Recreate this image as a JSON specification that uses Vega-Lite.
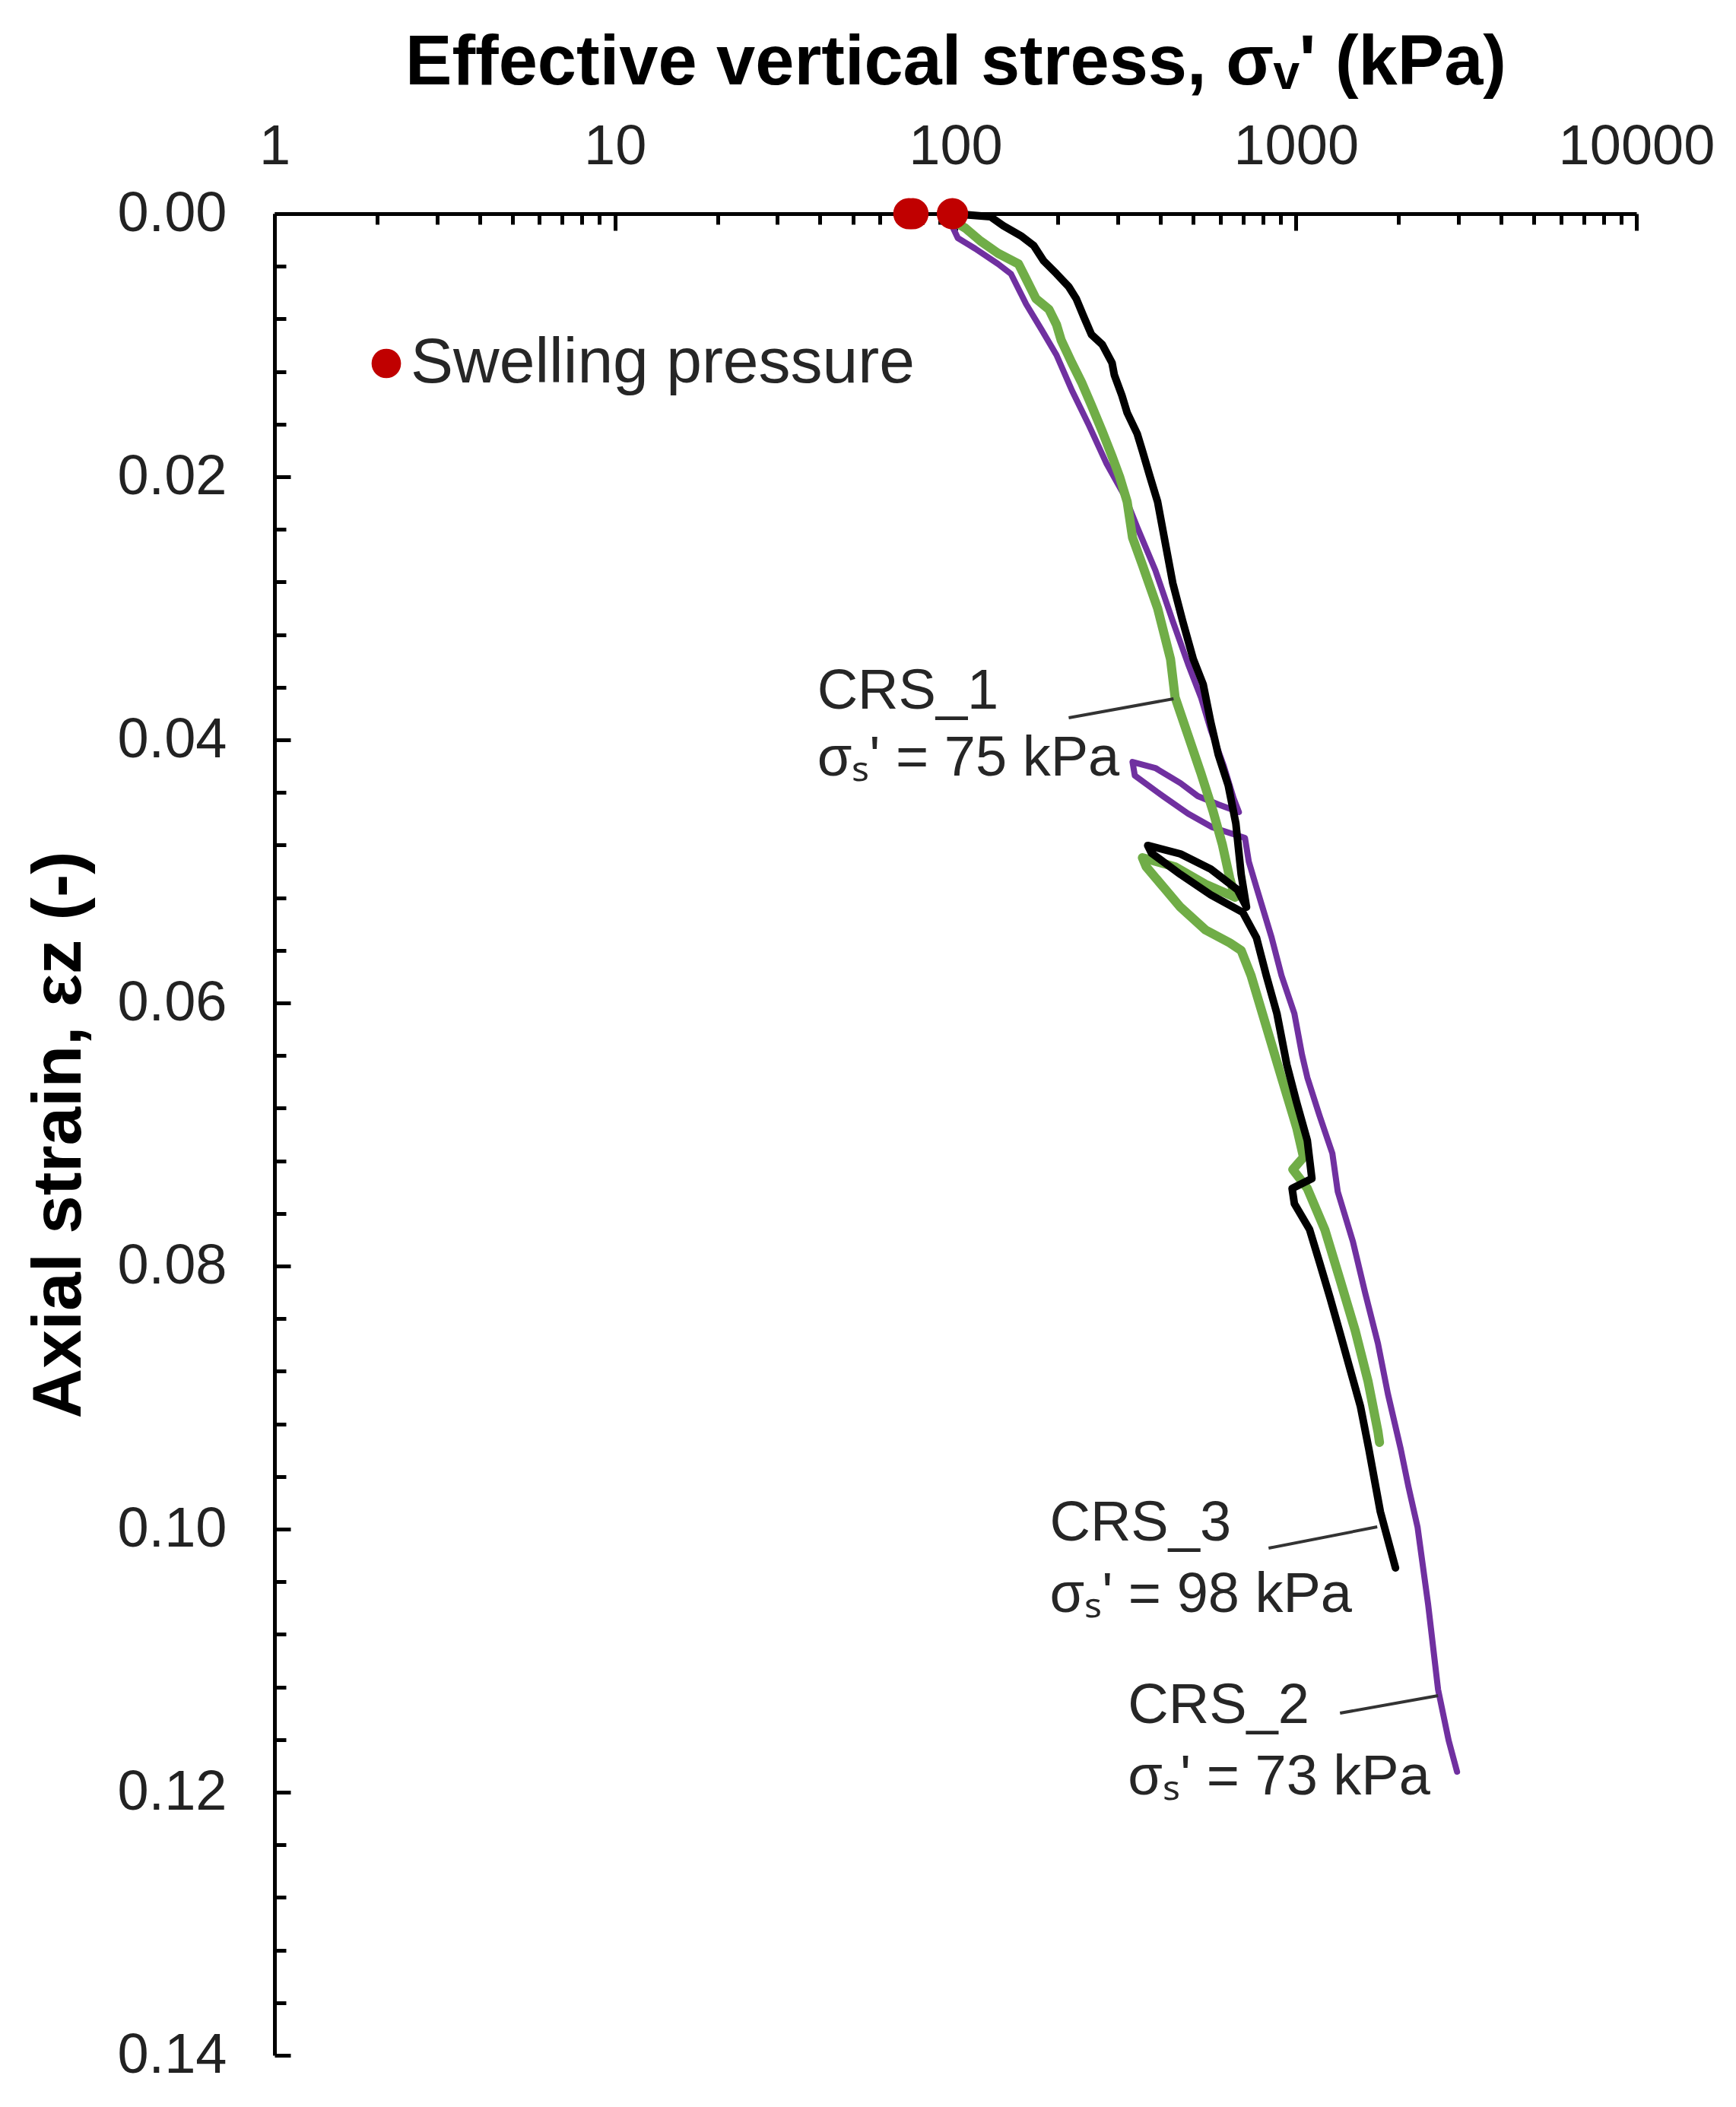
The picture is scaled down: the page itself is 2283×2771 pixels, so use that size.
{
  "$schema": "https://vega.github.io/schema/vega-lite/v6.json",
  "width": 1791,
  "height": 2422,
  "autosize": {"type": "none"},
  "padding": {"left": 361, "top": 281, "right": 131, "bottom": 68},
  "background": "white",
  "config": {
    "view": {"stroke": null},
    "font": "Liberation Sans"
  },
  "datasets": {
    "crs1": [
      {"i":1,"stress":100.5,"strain":0.00069},{"i":2,"stress":106.9,"strain":0.0011},{"i":3,"stress":118.5,"strain":0.00208},
      {"i":4,"stress":133.4,"strain":0.00301},{"i":5,"stress":153.2,"strain":0.00382},{"i":6,"stress":161.3,"strain":0.00497},
      {"i":7,"stress":172.4,"strain":0.00647},{"i":8,"stress":188.2,"strain":0.00728},{"i":9,"stress":198.1,"strain":0.00844},
      {"i":10,"stress":204.3,"strain":0.0096},{"i":11,"stress":219.6,"strain":0.01133},{"i":12,"stress":234.7,"strain":0.01283},
      {"i":13,"stress":250.9,"strain":0.01457},{"i":14,"stress":269.7,"strain":0.01653},{"i":15,"stress":288.3,"strain":0.01844},
      {"i":16,"stress":303.5,"strain":0.02},{"i":17,"stress":319.5,"strain":0.02191},{"i":18,"stress":331.2,"strain":0.02462},
      {"i":19,"stress":354.1,"strain":0.02671},{"i":20,"stress":392.5,"strain":0.03},{"i":21,"stress":428.3,"strain":0.03387},
      {"i":22,"stress":441.7,"strain":0.03676},{"i":23,"stress":482.0,"strain":0.03965},{"i":24,"stress":526.0,"strain":0.04254},
      {"i":25,"stress":571.0,"strain":0.04543},{"i":26,"stress":607.6,"strain":0.04792},{"i":27,"stress":639.4,"strain":0.05052},
      {"i":28,"stress":662.9,"strain":0.05197},{"i":29,"stress":542.6,"strain":0.05098},{"i":30,"stress":441.7,"strain":0.04965},
      {"i":31,"stress":354.1,"strain":0.04896},{"i":32,"stress":363.3,"strain":0.04965},{"i":33,"stress":457.9,"strain":0.05272},
      {"i":34,"stress":542.6,"strain":0.05445},{"i":35,"stress":639.4,"strain":0.05543},{"i":36,"stress":690.6,"strain":0.05601},
      {"i":37,"stress":738.4,"strain":0.05792},{"i":38,"stress":818.5,"strain":0.06179},{"i":39,"stress":907.2,"strain":0.06566},
      {"i":40,"stress":1005.1,"strain":0.06948},{"i":41,"stress":1052.7,"strain":0.07173},{"i":42,"stress":979.7,"strain":0.07266},
      {"i":43,"stress":1080.1,"strain":0.0741},{"i":44,"stress":1215.7,"strain":0.07723},{"i":45,"stress":1347.5,"strain":0.08104},
      {"i":46,"stress":1493.3,"strain":0.08491},{"i":47,"stress":1629.5,"strain":0.08879},{"i":48,"stress":1742.0,"strain":0.0926},
      {"i":49,"stress":1760.0,"strain":0.09341}
    ],
    "crs2": [
      {"i":1,"stress":98.0,"strain":0.00098},{"i":2,"stress":101.6,"strain":0.00185},{"i":3,"stress":114.3,"strain":0.00266},
      {"i":4,"stress":133.4,"strain":0.00382},{"i":5,"stress":145.5,"strain":0.00457},{"i":6,"stress":161.3,"strain":0.00688},
      {"i":7,"stress":178.8,"strain":0.00879},{"i":8,"stress":198.1,"strain":0.01075},{"i":9,"stress":219.6,"strain":0.01341},
      {"i":10,"stress":247.1,"strain":0.01613},{"i":11,"stress":278.1,"strain":0.01902},{"i":12,"stress":314.7,"strain":0.0215},
      {"i":13,"stress":341.6,"strain":0.02382},{"i":14,"stress":386.5,"strain":0.02711},{"i":15,"stress":434.9,"strain":0.03098},
      {"i":16,"stress":482.0,"strain":0.03422},{"i":17,"stress":526.0,"strain":0.03676},{"i":18,"stress":562.3,"strain":0.03925},
      {"i":19,"stress":613.7,"strain":0.04197},{"i":20,"stress":656.2,"strain":0.04445},{"i":21,"stress":680.0,"strain":0.04549},
      {"i":22,"stress":592.0,"strain":0.04491},{"i":23,"stress":515.0,"strain":0.04428},{"i":24,"stress":457.9,"strain":0.04329},
      {"i":25,"stress":386.5,"strain":0.04214},{"i":26,"stress":331.2,"strain":0.04168},{"i":27,"stress":336.4,"strain":0.04272},
      {"i":28,"stress":406.8,"strain":0.04428},{"i":29,"stress":482.0,"strain":0.04561},{"i":30,"stress":568.2,"strain":0.04665},
      {"i":31,"stress":708.7,"strain":0.04746},{"i":32,"stress":727.1,"strain":0.04925},
      {"i":33,"stress":765.6,"strain":0.05121},{"i":34,"stress":848.5,"strain":0.05503},{"i":35,"stress":907.2,"strain":0.05792},
      {"i":36,"stress":989.7,"strain":0.06081},{"i":37,"stress":1042.0,"strain":0.06393},{"i":38,"stress":1080.1,"strain":0.06566},
      {"i":39,"stress":1172.8,"strain":0.06855},{"i":40,"stress":1279.7,"strain":0.07145},{"i":41,"stress":1327.0,"strain":0.07434},
      {"i":42,"stress":1470.5,"strain":0.07815},{"i":43,"stress":1596.5,"strain":0.08202},{"i":44,"stress":1742.0,"strain":0.0859},
      {"i":45,"stress":1862.5,"strain":0.08971},{"i":46,"stress":2032.4,"strain":0.09393},{"i":47,"stress":2140.0,"strain":0.09676},
      {"i":48,"stress":2276.0,"strain":0.09983},{"i":49,"stress":2445.3,"strain":0.10572},{"i":50,"stress":2615.5,"strain":0.1122},
      {"i":51,"stress":2809.6,"strain":0.11607},{"i":52,"stress":2973.3,"strain":0.11844}
    ],
    "crs3": [
      {"i":1,"stress":98.0,"strain":0.0},{"i":2,"stress":126.7,"strain":0.00023},{"i":3,"stress":138.2,"strain":0.00092},
      {"i":4,"stress":155.6,"strain":0.00168},{"i":5,"stress":169.8,"strain":0.00243},{"i":6,"stress":181.5,"strain":0.00358},
      {"i":7,"stress":198.1,"strain":0.00457},{"i":8,"stress":215.1,"strain":0.00555},{"i":9,"stress":226.4,"strain":0.00647},
      {"i":10,"stress":238.4,"strain":0.00786},{"i":11,"stress":250.9,"strain":0.00919},{"i":12,"stress":269.7,"strain":0.00994},
      {"i":13,"stress":288.3,"strain":0.01133},{"i":14,"stress":292.8,"strain":0.01225},{"i":15,"stress":308.2,"strain":0.01382},
      {"i":16,"stress":319.5,"strain":0.01514},{"i":17,"stress":341.6,"strain":0.01671},{"i":18,"stress":354.1,"strain":0.01803},
      {"i":19,"stress":372.8,"strain":0.02},{"i":20,"stress":392.5,"strain":0.02191},{"i":21,"stress":408.9,"strain":0.02439},
      {"i":22,"stress":434.9,"strain":0.02809},{"i":23,"stress":465.0,"strain":0.03098},{"i":24,"stress":499.5,"strain":0.03387},
      {"i":25,"stress":534.1,"strain":0.03578},{"i":26,"stress":562.3,"strain":0.03867},{"i":27,"stress":592.0,"strain":0.04116},
      {"i":28,"stress":632.8,"strain":0.04347},{"i":29,"stress":666.2,"strain":0.04636},{"i":30,"stress":690.6,"strain":0.05023},
      {"i":31,"stress":716.0,"strain":0.05272},{"i":32,"stress":673.2,"strain":0.05139},{"i":33,"stress":562.3,"strain":0.04983},
      {"i":34,"stress":457.9,"strain":0.04867},{"i":35,"stress":367.1,"strain":0.04803},{"i":36,"stress":376.6,"strain":0.04861},
      {"i":37,"stress":457.9,"strain":0.05023},{"i":38,"stress":562.3,"strain":0.05179},{"i":39,"stress":698.0,"strain":0.05312},
      {"i":40,"stress":765.6,"strain":0.05503},{"i":41,"stress":818.5,"strain":0.05792},{"i":42,"stress":879.5,"strain":0.06081},
      {"i":43,"stress":940.2,"strain":0.06468},{"i":44,"stress":1005.1,"strain":0.06757},{"i":45,"stress":1080.1,"strain":0.07046},
      {"i":46,"stress":1114.0,"strain":0.07335},{"i":47,"stress":974.6,"strain":0.0741},{"i":48,"stress":989.7,"strain":0.07526},
      {"i":49,"stress":1097.0,"strain":0.07723},{"i":50,"stress":1172.8,"strain":0.07971},{"i":51,"stress":1260.2,"strain":0.08243},
      {"i":52,"stress":1347.5,"strain":0.08509},{"i":53,"stress":1440.5,"strain":0.0878},{"i":54,"stress":1547.8,"strain":0.09069},
      {"i":55,"stress":1638.0,"strain":0.09393},{"i":56,"stress":1769.7,"strain":0.09867},{"i":57,"stress":1960.9,"strain":0.10295}
    ],
    "swell": [
      {"stress":73,"strain":0,"kind":"Swelling pressure"},
      {"stress":75,"strain":0,"kind":"Swelling pressure"},
      {"stress":98,"strain":0,"kind":"Swelling pressure"}
    ],
    "leaders": [
      {"stress":215.1,"strain":0.03832,"stress2":437.1,"strain2":0.03688},
      {"stress":831.2,"strain":0.10145,"stress2":1733.3,"strain2":0.09983},
      {"stress":1347.5,"strain":0.11399,"stress2":2615.5,"strain2":0.11266}
    ],
    "notes": [
      {"stress":39.25,"strain":0.03763,"label":"CRS_1"},
      {"stress":39.25,"strain":0.04272,"label":"σₛ' = 75 kPa"},
      {"stress":189.2,"strain":0.10087,"label":"CRS_3"},
      {"stress":189.2,"strain":0.1063,"label":"σₛ' = 98 kPa"},
      {"stress":321.1,"strain":0.11474,"label":"CRS_2"},
      {"stress":321.1,"strain":0.12017,"label":"σₛ' = 73 kPa"}
    ]
  },
  "encoding": {
    "x": {
      "field": "stress", "type": "quantitative",
      "scale": {"type": "log", "domain": [1, 10000], "nice": false},
      "axis": {
        "orient": "top",
        "title": "Effective vertical stress, σᵥ' (kPa)",
        "values": [1,2,3,4,5,6,7,8,9,10,20,30,40,50,60,70,80,90,100,200,300,400,500,600,700,800,900,1000,2000,3000,4000,5000,6000,7000,8000,9000,10000],
        "format": "d",
        "labelExpr": "abs(log(datum.value)/LN10 - round(log(datum.value)/LN10)) < 0.001 ? datum.label : ''",
        "tickSize": {"condition": {"test": "abs(log(datum.value)/LN10 - round(log(datum.value)/LN10)) < 0.001", "value": -22}, "value": -14},
        "tickWidth": 5, "tickColor": "#000",
        "domainWidth": 5, "domainColor": "#000",
        "grid": false,
        "labelFont": "Liberation Sans", "labelFontSize": 74, "labelColor": "#222",
        "labelPadding": 88, "labelBaseline": "alphabetic", "labelLimit": 0,
        "labelFlush": false, "labelOverlap": false, "labelBound": false,
        "titleFont": "Liberation Sans", "titleFontSize": 92, "titleFontWeight": "bold", "titleColor": "#000",
        "titlePadding": 19
      }
    },
    "y": {
      "field": "strain", "type": "quantitative",
      "scale": {"domain": [0, 0.14], "reverse": true, "nice": false, "zero": false},
      "axis": {
        "title": "Axial strain, εz (-)",
        "values": [0,0.004,0.008,0.012,0.016,0.02,0.024,0.028,0.032,0.036,0.04,0.044,0.048,0.052,0.056,0.06,0.064,0.068,0.072,0.076,0.08,0.084,0.088,0.092,0.096,0.1,0.104,0.108,0.112,0.116,0.12,0.124,0.128,0.132,0.136,0.14],
        "format": ".2f",
        "labelExpr": "abs(datum.value*50 - round(datum.value*50)) < 0.001 ? datum.label : ''",
        "tickSize": {"condition": {"test": "abs(datum.value*50 - round(datum.value*50)) < 0.001", "value": -21}, "value": -15},
        "tickWidth": 5, "tickColor": "#000",
        "domainWidth": 5, "domainColor": "#000",
        "grid": false,
        "labelFont": "Liberation Sans", "labelFontSize": 74, "labelColor": "#222",
        "labelPadding": 84, "labelLimit": 0,
        "labelFlush": false, "labelOverlap": false, "labelBound": false,
        "titleFont": "Liberation Sans", "titleFontSize": 91, "titleFontWeight": "bold", "titleColor": "#000",
        "titlePadding": 37
      }
    }
  },
  "layer": [
    {
      "data": {"name": "crs2"},
      "mark": {"type": "line", "color": "#7030A0", "strokeWidth": 8, "strokeJoin": "round", "strokeCap": "round"},
      "encoding": {"order": {"field": "i", "type": "quantitative"}}
    },
    {
      "data": {"name": "crs1"},
      "mark": {"type": "line", "color": "#70AD47", "strokeWidth": 12, "strokeJoin": "round", "strokeCap": "round"},
      "encoding": {"order": {"field": "i", "type": "quantitative"}}
    },
    {
      "data": {"name": "crs3"},
      "mark": {"type": "line", "color": "#000000", "strokeWidth": 10, "strokeJoin": "round", "strokeCap": "round"},
      "encoding": {"order": {"field": "i", "type": "quantitative"}}
    },
    {
      "data": {"name": "leaders"},
      "mark": {"type": "rule", "color": "#333333", "strokeWidth": 4},
      "encoding": {
        "x2": {"field": "stress2"},
        "y2": {"field": "strain2"}
      }
    },
    {
      "data": {"name": "notes"},
      "mark": {"type": "text", "align": "left", "baseline": "alphabetic", "font": "Liberation Sans", "fontSize": 74, "color": "#262626"},
      "encoding": {"text": {"field": "label", "type": "nominal"}}
    },
    {
      "data": {"name": "swell"},
      "mark": {"type": "point", "filled": true, "size": 1700, "opacity": 1, "shape": "circle"},
      "encoding": {
        "color": {
          "field": "kind", "type": "nominal",
          "scale": {"domain": ["Swelling pressure"], "range": ["#c00000"]},
          "legend": {
            "orient": "none", "legendX": 105, "legendY": 155, "title": null,
            "padding": 0, "symbolSize": 1500, "symbolType": "circle", "symbolStrokeWidth": 0,
            "labelFont": "Liberation Sans", "labelFontSize": 84, "labelColor": "#262626", "labelOffset": -10,
            "labelLimit": 0
          }
        }
      }
    }
  ]
}
